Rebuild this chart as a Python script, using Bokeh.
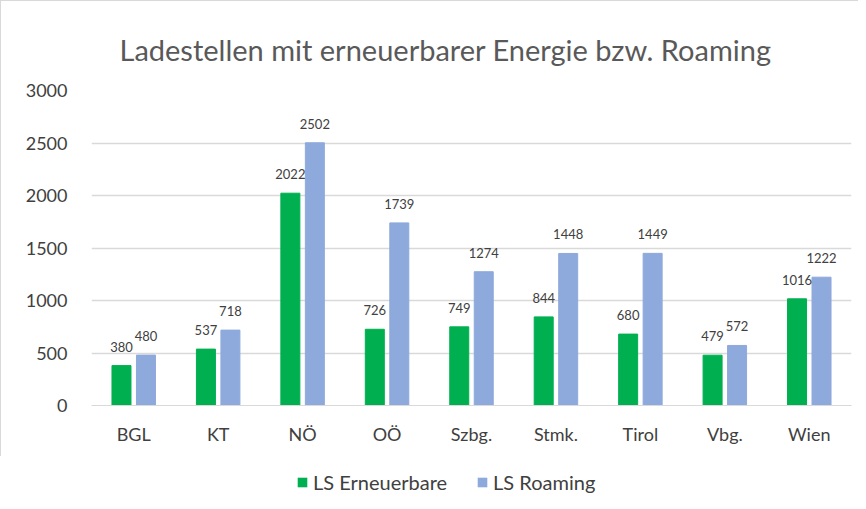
from bokeh.plotting import figure
from bokeh.layouts import column
from bokeh.models import ColumnDataSource, Legend, LegendItem, FixedTicker, Range1d
from bokeh.transform import dodge
from bokeh.core.properties import value
from bokeh.embed import file_html
from bokeh.resources import INLINE

categories = ["BGL", "KT", "NÖ", "OÖ", "Szbg.", "Stmk.", "Tirol", "Vbg.", "Wien"]
erneuerbare = [380, 537, 2022, 726, 749, 844, 680, 479, 1016]
roaming = [480, 718, 2502, 1739, 1274, 1448, 1449, 572, 1222]
y_ticks = [0, 500, 1000, 1500, 2000, 2500, 3000]
series_names = ["LS Erneuerbare", "LS Roaming"]

src = ColumnDataSource(dict(
    cat=categories,
    ern=erneuerbare,
    roa=roaming,
    ern_t=[str(v) for v in erneuerbare],
    roa_t=[str(v) for v in roaming],
))

FONT = "Lato"
GREEN = "#00B050"
BLUE = "#8EA9DB"

p = figure(
    x_range=categories, y_range=Range1d(0, 3000),
    width=858, height=456,
    output_backend="svg", toolbar_location=None,
    min_border_left=90, min_border_right=8, min_border_top=89, min_border_bottom=52,
    title="Ladestellen mit erneuerbarer Energie bzw. Roaming",
)
p.styles = {"border-top": "1px solid #d9d9d9", "border-left": "1px solid #d9d9d9"}

p.title.align = "left"
p.title.offset = 28
p.title.text_font = FONT
p.title.text_font_style = "normal"
p.title.text_font_size = "29px"
p.title.text_color = "#595959"
p.title.standoff = 47

r1 = p.vbar(x=dodge("cat", -0.145, range=p.x_range), top="ern", width=0.225,
            source=src, fill_color=GREEN, line_color=GREEN)
r2 = p.vbar(x=dodge("cat", 0.145, range=p.x_range), top="roa", width=0.225,
            source=src, fill_color=BLUE, line_color=BLUE)

p.text(x=dodge("cat", -0.145, range=p.x_range), y="ern", text="ern_t", source=src,
       text_align="center", text_baseline="middle", y_offset=-19,
       text_font=value(FONT), text_font_size="13px", text_color="#404040")
p.text(x=dodge("cat", 0.145, range=p.x_range), y="roa", text="roa_t", source=src,
       text_align="center", text_baseline="middle", y_offset=-19,
       text_font=value(FONT), text_font_size="13px", text_color="#404040")

p.x_range.range_padding = 0
p.outline_line_color = None
p.xgrid.grid_line_color = None
p.ygrid.grid_line_color = "#D9D9D9"
p.ygrid.grid_line_width = 1.5
p.yaxis.ticker = FixedTicker(ticks=y_ticks)

for ax in (p.xaxis, p.yaxis):
    ax.axis_line_color = None
    ax.major_tick_line_color = None
    ax.minor_tick_line_color = None
    ax.major_label_text_font = FONT
    ax.major_label_text_font_size = "18px"
    ax.major_label_text_color = "#404040"
p.xaxis.axis_line_color = "#D9D9D9"
p.xaxis.major_label_standoff = 11
p.yaxis.major_label_standoff = 18

# Legend figure (frame aligned with the chart's frame)
lf = figure(width=858, height=50, output_backend="svg", toolbar_location=None,
            x_range=Range1d(0, 1), y_range=Range1d(0, 1),
            min_border_left=90, min_border_right=8, min_border_top=0, min_border_bottom=0)
lf.axis.visible = False
lf.grid.visible = False
lf.outline_line_color = None
dummy = ColumnDataSource(dict(x=[0.5], top=[0], bottom=[0]))
g1 = lf.vbar(x="x", top="top", bottom="bottom", width=0, source=dummy,
             fill_color=GREEN, line_color=GREEN, line_alpha=0)
g2 = lf.vbar(x="x", top="top", bottom="bottom", width=0, source=dummy,
             fill_color=BLUE, line_color=BLUE, line_alpha=0)

legend = Legend(items=[
    LegendItem(label=series_names[0], renderers=[g1]),
    LegendItem(label=series_names[1], renderers=[g2]),
], orientation="horizontal", location=(206, 12))
legend.label_text_font = FONT
legend.label_text_font_size = "20px"
legend.label_text_color = "#404040"
legend.glyph_width = 12
legend.glyph_height = 12
legend.spacing = 29
legend.label_standoff = 5
legend.padding = 0
legend.margin = 0
legend.border_line_color = None
legend.background_fill_alpha = 0
lf.add_layout(legend)

layout = column(p, lf, spacing=0)
open("out.html", "w").write(file_html(layout, INLINE))
